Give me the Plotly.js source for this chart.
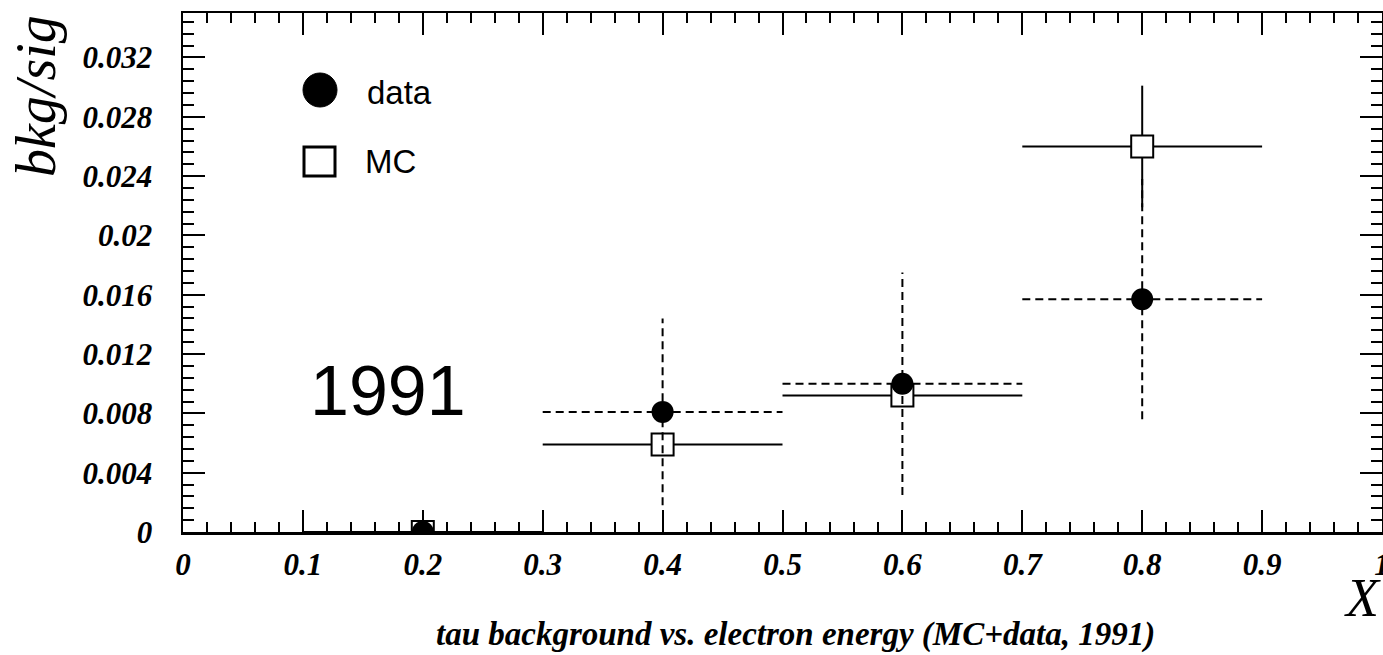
<!DOCTYPE html>
<html>
<head>
<meta charset="utf-8">
<script src="https://cdn.plot.ly/plotly-3.0.1.min.js"></script>
<style>
  html, body { margin: 0; padding: 0; background: #fff; }
  #plot { width: 1383px; height: 655px; }
</style>
</head>
<body>
<div id="plot"></div>
<script>
// Bins in X (electron energy fraction): centre and half width
const binCenters   = [0.2, 0.4, 0.6, 0.8];
const binHalfWidth = [0.1, 0.1, 0.1, 0.1];

// bkg/sig from data (filled circles) with errors
const dataRatio = [0.0, 0.0081, 0.0100, 0.0157];
const dataErr   = [0.0, 0.0063, 0.0075, 0.0081];

// bkg/sig from Monte Carlo (open squares) with errors
const mcRatio = [0.0, 0.0059, 0.0092, 0.0260];
const mcErr   = [0.0, 0.0005, 0.0005, 0.0041];

// Tick values
const xTickVals = [0, 0.1, 0.2, 0.3, 0.4, 0.5, 0.6, 0.7, 0.8, 0.9, 1];
const xTickText = ['0', '0.1', '0.2', '0.3', '0.4', '0.5', '0.6', '0.7', '0.8', '0.9', '1'];
const yTickVals = [0, 0.004, 0.008, 0.012, 0.016, 0.02, 0.024, 0.028, 0.032];
const yTickText = ['0', '0.004', '0.008', '0.012', '0.016', '0.02', '0.024', '0.028', '0.032'];

// Build bin-width and error segments (no caps) as one broken line
function errorSegments(xc, hw, y, e) {
  const xs = [], ys = [];
  for (let i = 0; i < xc.length; i++) {
    xs.push(xc[i] - hw[i], xc[i] + hw[i], null);
    ys.push(y[i], y[i], null);
    if (e[i] > 0) {
      xs.push(xc[i], xc[i], null);
      ys.push(y[i] - e[i], y[i] + e[i], null);
    }
  }
  return { xs, ys };
}

const mcSeg = errorSegments(binCenters, binHalfWidth, mcRatio, mcErr);
const dataSeg = errorSegments(binCenters, binHalfWidth, dataRatio, dataErr);

const traces = [
  {
    x: mcSeg.xs, y: mcSeg.ys, mode: 'lines', type: 'scatter',
    line: { color: '#000', width: 2 }, hoverinfo: 'skip', showlegend: false
  },
  {
    x: binCenters, y: mcRatio, mode: 'markers', type: 'scatter', name: 'MC',
    marker: { symbol: 'square', size: 22, color: '#fff', line: { color: '#000', width: 2 } },
    showlegend: false
  },
  {
    x: dataSeg.xs, y: dataSeg.ys, mode: 'lines', type: 'scatter',
    line: { color: '#000', width: 2, dash: '8px,5px' }, hoverinfo: 'skip', showlegend: false
  },
  {
    x: binCenters, y: dataRatio, mode: 'markers', type: 'scatter', name: 'data',
    marker: { symbol: 'circle', size: 22, color: '#000' },
    showlegend: false
  }
];

const tickFont = { family: 'Liberation Serif, Times New Roman, serif', size: 31, color: '#000', style: 'italic', weight: 'bold' };

// plot-area helpers (paper coordinates from pixel offsets)
const L = 183, T = 13, W = 1199, H = 519;
const px = v => (v - L) / W;
const py = v => (T + H - v) / H;

const layout = {
  width: 1383, height: 655,
  margin: { l: L, r: 1383 - L - W, t: T, b: 655 - T - H },
  paper_bgcolor: '#fff', plot_bgcolor: '#fff',
  showlegend: false,
  xaxis: {
    range: [0, 1], tickmode: 'array', tickvals: xTickVals, ticktext: xTickText,
    ticks: 'inside', ticklen: 22, tickwidth: 2, tickcolor: '#000',
    minor: { dtick: 0.02, tick0: 0, ticks: 'inside', ticklen: 10, tickwidth: 2, tickcolor: '#000', showgrid: false },
    showline: true, linewidth: 2.5, linecolor: '#000', mirror: 'allticks',
    showgrid: false, zeroline: false, tickfont: tickFont, ticklabelstandoff: 3,
    ticklabeloverflow: 'allow'
  },
  yaxis: {
    range: [0, 0.035], tickmode: 'array', tickvals: yTickVals, ticktext: yTickText,
    ticks: 'inside', ticklen: 22, tickwidth: 2, tickcolor: '#000',
    minor: { dtick: 0.0008, tick0: 0, ticks: 'inside', ticklen: 11, tickwidth: 2, tickcolor: '#000', showgrid: false },
    showline: true, linewidth: 2.5, linecolor: '#000', mirror: 'allticks',
    showgrid: false, zeroline: false, tickfont: tickFont, ticklabelstandoff: 22
  },
  shapes: [
    // legend symbols
    { type: 'circle', xref: 'paper', yref: 'paper',
      x0: px(303), x1: px(337), y0: py(107), y1: py(73),
      fillcolor: '#000', line: { color: '#000', width: 1 } },
    { type: 'rect', xref: 'paper', yref: 'paper',
      x0: px(304), x1: px(335), y0: py(176), y1: py(147),
      fillcolor: '#fff', line: { color: '#000', width: 3 } }
  ],
  annotations: [
    { text: 'data', xref: 'paper', yref: 'paper', x: px(365), y: py(92), xanchor: 'left', yanchor: 'middle',
      showarrow: false, font: { family: 'Liberation Sans, Arial, sans-serif', size: 33, color: '#000' } },
    { text: 'MC', xref: 'paper', yref: 'paper', x: px(363), y: py(162), xanchor: 'left', yanchor: 'middle',
      showarrow: false, font: { family: 'Liberation Sans, Arial, sans-serif', size: 33, color: '#000' } },
    { text: '1991', xref: 'paper', yref: 'paper', x: px(388), y: py(391), xanchor: 'center', yanchor: 'middle',
      showarrow: false, font: { family: 'Liberation Sans, Arial, sans-serif', size: 70, color: '#000' } },
    { text: 'bkg/sig', xref: 'paper', yref: 'paper', x: px(36), y: py(96), xanchor: 'center', yanchor: 'middle',
      textangle: -90, showarrow: false,
      font: { family: 'Liberation Serif, Times New Roman, serif', size: 56, color: '#000', style: 'italic' } },
    { text: 'X', xref: 'paper', yref: 'paper', x: px(1362), y: py(598), xanchor: 'center', yanchor: 'middle',
      showarrow: false,
      font: { family: 'Liberation Serif, Times New Roman, serif', size: 54, color: '#000', style: 'italic' } },
    { text: 'tau background vs. electron energy (MC+data, 1991)', xref: 'paper', yref: 'paper',
      x: px(795), y: py(634), xanchor: 'center', yanchor: 'middle', showarrow: false,
      font: { family: 'Liberation Serif, Times New Roman, serif', size: 33, color: '#000', style: 'italic', weight: 'bold' } }
  ]
};

Plotly.newPlot('plot', traces, layout, { displayModeBar: false, staticPlot: true });
</script>
</body>
</html>
